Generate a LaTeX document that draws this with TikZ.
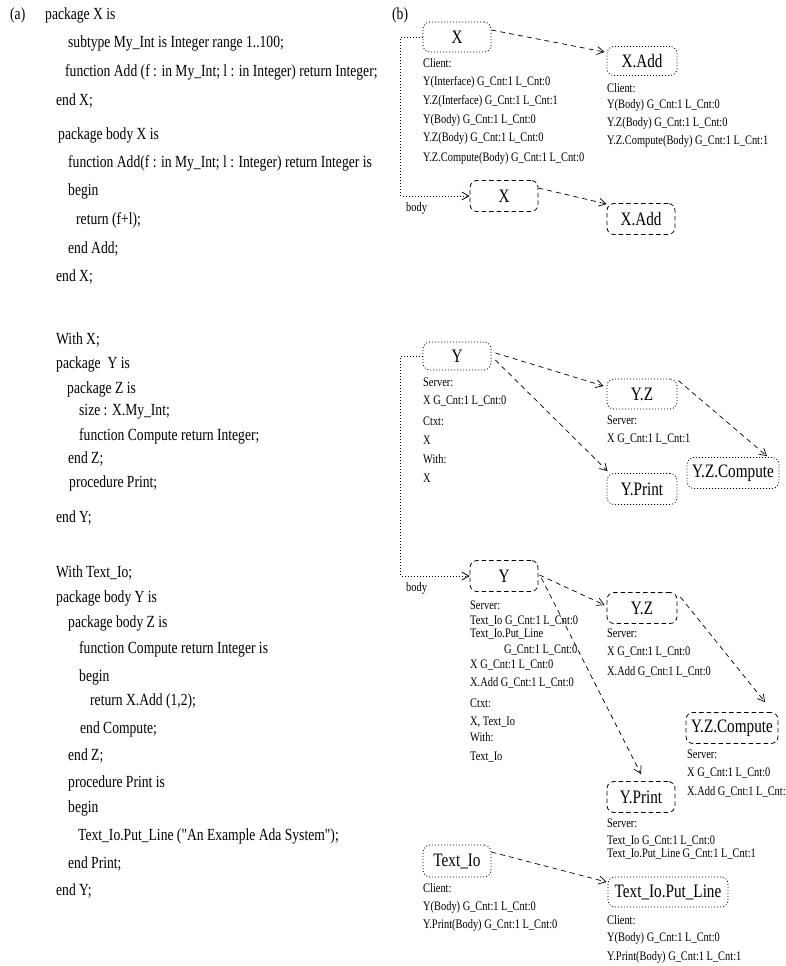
\documentclass[tikz,border=0pt]{standalone}
\usepackage{fontspec}
\setmainfont{Liberation Serif}[FakeStretch=0.8, Ligatures=TeXOff]
\usetikzlibrary{arrows.meta}
\tikzset{
  code/.style={anchor=west, inner sep=0pt, font=\fontsize{17}{17}\selectfont},
  small/.style={anchor=west, inner sep=0pt, font=\fontsize{13}{13}\selectfont},
  boxbase/.style={draw, rounded corners=7pt, line width=0.8pt, inner sep=0pt, font=\fontsize{19}{19}\selectfont},
  ifbox/.style={boxbase, dash pattern=on 1pt off 2pt},
  bdbox/.style={boxbase, dash pattern=on 4.5pt off 3pt},
  dep/.style={line width=0.7pt, dash pattern=on 5pt off 4pt, -{Straight Barb[length=7pt,width=8pt]}},
  bodylink/.style={line width=0.8pt, dash pattern=on 1pt off 2pt, -{Straight Barb[length=7pt,width=8pt]}},
}
\begin{document}
\begin{tikzpicture}[x=1pt,y=-1pt]
\useasboundingbox (0,0) rectangle (785,966);
% ---------- (a) code ----------
\node[code] (la) at (10,15) {(a)};
\node[code] (c1) at (45,15) {package X is};
\node[code] (c2) at (68,43) {subtype My\_Int is Integer range 1..100;};
\node[code] (c3) at (65,72) {function Add (f : in My\_Int; l : in Integer) return Integer;};
\node[code] (c4) at (56,101) {end X;};
\node[code] (c5) at (58,135) {package body X is};
\node[code] (c6) at (68,163) {function Add(f : in My\_Int; l : Integer) return Integer is};
\node[code] (c7) at (68,191) {begin};
\node[code] (c8) at (76,220) {return (f+l);};
\node[code] (c9) at (68,249) {end Add;};
\node[code] (c10) at (56,277) {end X;};
\node[code] (d1) at (56,340) {With X;};
\node[code] (d2) at (56,364) {package\ \ Y is};
\node[code] (d3) at (67,389) {package Z is};
\node[code] (d4) at (79,412) {size : X.My\_Int;};
\node[code] (d5) at (79,436) {function Compute return Integer;};
\node[code] (d6) at (68,459) {end Z;};
\node[code] (d7) at (69,483) {procedure Print;};
\node[code] (d8) at (56,518) {end Y;};
\node[code] (e1) at (56,573) {With Text\_Io;};
\node[code] (e2) at (56,598) {package body Y is};
\node[code] (e3) at (68,623) {package body Z is};
\node[code] (e4) at (79,649) {function Compute return Integer is};
\node[code] (e5) at (79,677) {begin};
\node[code] (e6) at (90,701) {return X.Add (1,2);};
\node[code] (e7) at (80,729) {end Compute;};
\node[code] (e8) at (68,756) {end Z;};
\node[code] (e9) at (68,783) {procedure Print is};
\node[code] (e10) at (68,808) {begin};
\node[code] (e11) at (78,836) {Text\_Io.Put\_Line ("An Example Ada System");};
\node[code] (e12) at (68,864) {end Print;};
\node[code] (e13) at (56,891) {end Y;};
% ---------- (b) graph ----------
\node[code] (lb) at (392,15) {(b)};
% boxes
\node[ifbox, minimum width=68pt, minimum height=30pt] (xi) at (457,37) {X};
\node[ifbox, minimum width=70pt, minimum height=29pt] (xai) at (642,61) {X.Add};
\node[bdbox, minimum width=68pt, minimum height=31pt] (xb) at (504,196) {X};
\node[bdbox, minimum width=68pt, minimum height=31pt] (xab) at (641,219) {X.Add};
\node[ifbox, minimum width=68pt, minimum height=28pt] (yi) at (457,356) {Y};
\node[ifbox, minimum width=70pt, minimum height=30pt] (yzi) at (642,394) {Y.Z};
\node[ifbox, minimum width=70pt, minimum height=31pt] (ypi) at (642,489) {Y.Print};
\node[ifbox, minimum width=92pt, minimum height=31pt] (yzci) at (733,473) {Y.Z.Compute};
\node[bdbox, minimum width=68pt, minimum height=31pt] (yb) at (504,576) {Y};
\node[bdbox, minimum width=70pt, minimum height=31pt] (yzb) at (642,608) {Y.Z};
\node[bdbox, minimum width=92pt, minimum height=31pt] (yzcb) at (732,728) {Y.Z.Compute};
\node[bdbox, minimum width=68pt, minimum height=31pt] (ypb) at (641,797) {Y.Print};
\node[ifbox, minimum width=68pt, minimum height=32pt] (tio) at (457,861) {Text\_Io};
\node[ifbox, minimum width=120pt, minimum height=30pt] (tiopl) at (668,892) {Text\_Io.Put\_Line};
% texts
\node[small] (t1) at (423,63) {Client:};
\node[small] (t2) at (423,82) {Y(Interface) G\_Cnt:1 L\_Cnt:0};
\node[small] (t3) at (423,101) {Y.Z(Interface) G\_Cnt:1 L\_Cnt:1};
\node[small] (t4) at (423,120) {Y(Body) G\_Cnt:1 L\_Cnt:0};
\node[small] (t5) at (423,138) {Y.Z(Body) G\_Cnt:1 L\_Cnt:0};
\node[small] (t6) at (423,158) {Y.Z.Compute(Body) G\_Cnt:1 L\_Cnt:0};
\node[small] (u1) at (607,88) {Client:};
\node[small] (u2) at (607,105) {Y(Body) G\_Cnt:1 L\_Cnt:0};
\node[small] (u3) at (607,123) {Y.Z(Body) G\_Cnt:1 L\_Cnt:0};
\node[small] (u4) at (607,141) {Y.Z.Compute(Body) G\_Cnt:1 L\_Cnt:1};
\node[small] (v1) at (423,382) {Server:};
\node[small] (v2) at (423,401) {X G\_Cnt:1 L\_Cnt:0};
\node[small] (v3) at (423,421) {Ctxt:};
\node[small] (v4) at (423,440) {X};
\node[small] (v5) at (423,459) {With:};
\node[small] (v6) at (423,478) {X};
\node[small] (w1) at (607,420) {Server:};
\node[small] (w2) at (607,439) {X G\_Cnt:1 L\_Cnt:1};
\node[small] (p1) at (470,605) {Server:};
\node[small] (p2) at (470,621) {Text\_Io G\_Cnt:1 L\_Cnt:0};
\node[small] (p3) at (470,634) {Text\_Io.Put\_Line};
\node[small] (p4) at (504,650) {G\_Cnt:1 L\_Cnt:0};
\node[small] (p5) at (470,665) {X G\_Cnt:1 L\_Cnt:0};
\node[small] (p6) at (470,683) {X.Add G\_Cnt:1 L\_Cnt:0};
\node[small] (p7) at (470,703) {Ctxt:};
\node[small] (p8) at (470,722) {X, Text\_Io};
\node[small] (p9) at (470,737) {With:};
\node[small] (p10) at (470,757) {Text\_Io};
\node[small] (q1) at (607,633) {Server:};
\node[small] (q2) at (607,652) {X G\_Cnt:1 L\_Cnt:0};
\node[small] (q3) at (607,672) {X.Add G\_Cnt:1 L\_Cnt:0};
\node[small] (r1) at (687,754) {Server:};
\node[small] (r2) at (687,773) {X G\_Cnt:1 L\_Cnt:0};
\node[small] (r3) at (687,792) {X.Add G\_Cnt:1 L\_Cnt:};
\node[small] (s1) at (607,823) {Server:};
\node[small] (s2) at (607,841) {Text\_Io G\_Cnt:1 L\_Cnt:0};
\node[small] (s3) at (607,854) {Text\_Io.Put\_Line G\_Cnt:1 L\_Cnt:1};
\node[small] (k1) at (423,888) {Client:};
\node[small] (k2) at (423,907) {Y(Body) G\_Cnt:1 L\_Cnt:0};
\node[small] (k3) at (423,925) {Y.Print(Body) G\_Cnt:1 L\_Cnt:0};
\node[small] (m1) at (607,920) {Client:};
\node[small] (m2) at (607,938) {Y(Body) G\_Cnt:1 L\_Cnt:0};
\node[small] (m3) at (607,957) {Y.Print(Body) G\_Cnt:1 L\_Cnt:1};
\node[small] (bl1) at (406,208) {body};
\node[small] (bl2) at (406,588) {body};
% connectors
\draw[bodylink] (xi.west) -- ++(-22,0) |- (xb.west);
\draw[bodylink] (yi.west) -- ++(-22,0) |- (yb.west);
\draw[dep] ([yshift=7pt]xi.east) -- ([xshift=-2pt,yshift=9pt]xai.west);
\draw[dep] ([yshift=8pt]xb.east) -- ([yshift=15pt]xab.west);
\draw[dep] ([xshift=4pt,yshift=3pt]yi.east) -- ([xshift=-3pt,yshift=8pt]yzi.west);
\draw[dep] ([xshift=4pt,yshift=-4pt]yi.east) -- ([xshift=1pt,yshift=2pt]ypi.north west);
\draw[dep] ([xshift=1pt,yshift=-2pt]yzi.north east) -- ([xshift=34pt,yshift=1pt]yzci.north);
\draw[dep] ([xshift=1pt,yshift=1pt]yb.east) -- ([xshift=-2pt,yshift=3pt]yzb.west);
\draw[dep] ([xshift=3pt,yshift=-2pt]yb.east) -- ([yshift=7pt]ypb.north);
\draw[dep] ([xshift=3pt,yshift=11pt]yzb.east) -- ([xshift=33pt,yshift=10pt]yzcb.north);
\draw[dep] ([yshift=9pt]tio.east) -- ([xshift=-1pt,yshift=10pt]tiopl.west);
\end{tikzpicture}
\end{document}
